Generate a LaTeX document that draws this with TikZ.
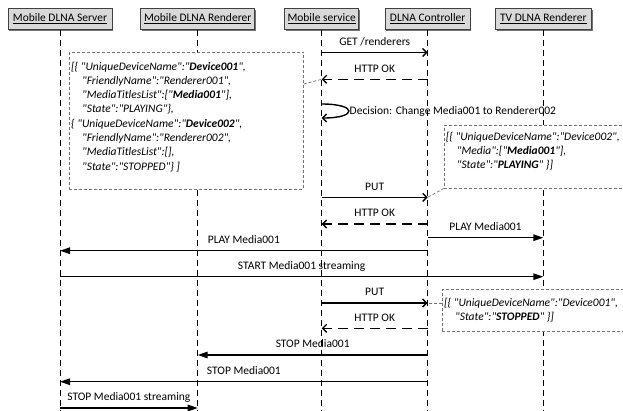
\documentclass[tikz,border=0pt]{standalone}
\usepackage{fontspec}
\setmainfont{Carlito}[Ligatures=TeXOff]
\usetikzlibrary{arrows.meta,calc,shadows}
\begin{document}
\begin{tikzpicture}[x=1pt,y=-1pt,
  font=\fontsize{11.5}{14.3}\selectfont,
  head/.style={draw=black!75, line width=0.9pt, fill=black!15, minimum height=21pt,
    inner sep=0pt, anchor=north, drop shadow={shadow xshift=1.2pt, shadow yshift=-1.2pt, fill=black!55, opacity=1}},
  lifeline/.style={draw=black, line width=0.9pt, dash pattern=on 6pt off 4pt},
  msgsync/.style={line width=1.4pt, -{Triangle[length=10pt,width=6.5pt]}},
  msgasync/.style={line width=1.4pt, -{Straight Barb[length=4pt,width=8pt]}},
  msgreply/.style={line width=1.4pt, dash pattern=on 10pt off 6pt, -{Straight Barb[length=4pt,width=8pt]}},
  lbl/.style={inner sep=0pt, text height=8pt, text depth=2pt, midway, above=4.5pt},
  notebox/.style={draw=black!55, dash pattern=on 3pt off 2pt, fill=white, line width=0.7pt, inner sep=0pt, anchor=north west},
  notetext/.style={inner sep=0pt, anchor=north west, align=left, font=\fontsize{11.5}{14.3}\selectfont\itshape},
  noteline/.style={draw=black!55, dash pattern=on 3pt off 2pt, line width=0.7pt}
]
\clip (0,0) rectangle (623,410);
\fill[white] (0,0) rectangle (623,410);

% heads
\node[head, minimum width=104pt] (srv) at (60,8) {\underline{Mobile DLNA Server}};
\node[head, minimum width=114pt] (ren) at (197.7,8) {\underline{Mobile DLNA Renderer}};
\node[head, minimum width=74pt] (svc) at (321.7,8) {\underline{Mobile service}};
\node[head, minimum width=85pt] (ctl) at (427.7,8) {\underline{DLNA Controller}};
\node[head, minimum width=96pt] (tv) at (543.3,8) {\underline{TV DLNA Renderer}};

% lifelines
\foreach \n in {srv,ren,svc,ctl,tv}
  \draw[lifeline] (\n.south) -- (\n.south |- 0,420);

% notes
\node[notebox, minimum width=234pt, minimum height=137.3pt] (n1) at (69,51.7) {};
\node[notetext] (n1t) at (71,61.5) {[\{ "UniqueDeviceName":"\textbf{Device001}",\\
\hspace*{11pt}"FriendlyName":"Renderer001",\\
\hspace*{11pt}"MediaTitlesList":["\textbf{Media001}"],\\
\hspace*{11pt}"State":"PLAYING"\},\\
\{ "UniqueDeviceName":"\textbf{Device002}",\\
\hspace*{11pt}"FriendlyName":"Renderer002",\\
\hspace*{11pt}"MediaTitlesList":[],\\
\hspace*{11pt}"State":"STOPPED"\} ]};

\node[notebox, minimum width=210pt, minimum height=62.7pt] (n2) at (444,125) {};
\node[notetext] (n2t) at (445.7,131.5) {[\{ "UniqueDeviceName":"Device002",\\
\hspace*{11pt}"Media":["\textbf{Media001}"],\\
\hspace*{11pt}"State":"\textbf{PLAYING}" \}]};

\node[notebox, minimum width=210pt, minimum height=41.7pt] (n3) at (441.7,289.3) {};
\node[notetext] (n3t) at (444,297.5) {[\{ "UniqueDeviceName":"Device001",\\
\hspace*{11pt}"State":"\textbf{STOPPED}" \}]};

\draw[noteline] (n1.north east |- 0,84) -- (svc |- 0,79.3);
\draw[noteline] (n2.south west) -- (ctl |- 0,197.3);
\draw[noteline] (n3.west |- 0,303) -- (ctl |- 0,303);

% messages
\draw[msgasync] (svc |- 0,52.5) -- (ctl |- 0,52.5) node[lbl] (l1) {GET /renderers};
\draw[msgreply] (ctl |- 0,79.3) -- (svc |- 0,79.3) node[lbl] (l2) {HTTP OK};
\draw[msgasync] (svc |- 0,104) .. controls +(36,0) and +(36,0) .. (svc |- 0,118);
\node[anchor=west, inner sep=0pt] (l3) at (349.5,111) {Decision: Change Media001 to Renderer002};
\draw[msgasync] (svc |- 0,197.3) -- (ctl |- 0,197.3) node[lbl] (l4) {PUT};
\draw[msgreply] (ctl |- 0,224) -- (svc |- 0,224) node[lbl] (l5) {HTTP OK};
\draw[msgsync] (ctl |- 0,237.7) -- (tv |- 0,237.7) node[lbl] (l6) {PLAY Media001};
\draw[msgsync] (ctl |- 0,250.7) -- (srv |- 0,250.7) node[lbl] (l7) {PLAY Media001};
\draw[msgsync] (srv |- 0,276.7) -- (tv |- 0,276.7) node[lbl] (l8) {START Media001 streaming};
\draw[msgasync] (svc |- 0,303) -- (ctl |- 0,303) node[lbl] (l9) {PUT};
\draw[msgreply] (ctl |- 0,328.3) -- (svc |- 0,328.3) node[lbl] (l10) {HTTP OK};
\draw[msgsync] (ctl |- 0,355) -- (ren |- 0,355) node[lbl] (l11) {STOP Media001};
\draw[msgsync] (ctl |- 0,381.7) -- (srv |- 0,381.7) node[lbl] (l12) {STOP Media001};
\draw[msgsync] (srv |- 0,408) -- (ren |- 0,408) node[lbl] (l13) {STOP Media001 streaming};
\end{tikzpicture}
\end{document}
